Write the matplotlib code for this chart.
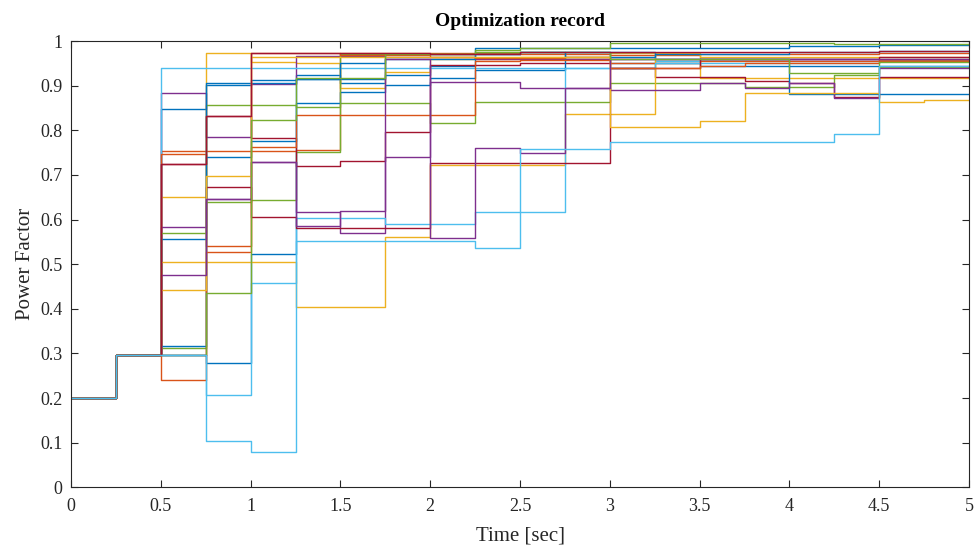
import numpy as np
import matplotlib
matplotlib.use("Agg")
import matplotlib.pyplot as plt

plt.rcParams['font.family'] = ['Liberation Serif', 'DejaVu Serif']

# step start times (0.25 s grid)
t_steps = [0, 0.25, 0.5, 0.75, 1.0, 1.25, 1.5, 1.75, 2.0, 2.25, 2.5, 2.75,
           3.0, 3.25, 3.5, 3.75, 4.0, 4.25, 4.5, 4.75]
t_end = 5.0

blue = '#0072BD'; orange = '#D95319'; yellow = '#EDB120'; purple = '#7E2F8E'
green = '#77AC30'; cyan = '#4DBEEE'; red = '#A2142F'

B1 = [.2, .297, .848, .901, .913, .924, .906, .924, .945, .985, .985, .985, .985, .985, .985, .985, .988, .988, .990, .990]
B2 = [.2, .297, .557, .741, .775, .860, .886, .902, .918, .935, .935, .975, .975, .960, .960, .960, .881, .881, .881, .881]
B3 = [.2, .297, .317, .905, .905, .914, .950, .960, .960, .970, .975, .975, .965, .970, .970, .970, .975, .975, .978, .978]
B4 = [.2, .297, .297, .279, .523, .914, .914, .970, .970, .970, .975, .965, .950, .950, .945, .945, .945, .945, .945, .945]
O1 = [.2, .297, .754, .754, .754, .755, .972, .972, .972, .972, .970, .970, .968, .968, .970, .970, .970, .970, .972, .972]
O2 = [.2, .297, .747, .541, .762, .835, .835, .835, .835, .955, .958, .958, .950, .950, .955, .955, .955, .955, .958, .958]
O3 = [.2, .297, .240, .528, .972, .972, .968, .968, .965, .962, .962, .965, .940, .940, .945, .950, .950, .950, .955, .955]
Y1 = [.2, .297, .650, .972, .952, .950, .894, .930, .960, .960, .965, .965, .972, .972, .918, .918, .918, .918, .918, .918]
Y2 = [.2, .297, .505, .505, .505, .405, .405, .561, .722, .722, .722, .836, .836, .970, .965, .965, .965, .965, .965, .965]
Y3 = [.2, .297, .441, .698, .965, .965, .965, .965, .965, .965, .965, .965, .808, .808, .821, .883, .883, .883, .864, .868]
P1 = [.2, .297, .883, .785, .903, .967, .967, .965, .965, .960, .960, .960, .960, .960, .960, .960, .960, .960, .955, .955]
P2 = [.2, .297, .583, .645, .729, .617, .569, .741, .909, .909, .894, .894, .890, .890, .905, .895, .905, .872, .940, .940]
P3 = [.2, .297, .475, .645, .729, .585, .620, .960, .558, .761, .750, .894, .960, .960, .960, .960, .960, .960, .960, .960]
G1 = [.2, .297, .313, .639, .644, .751, .860, .860, .816, .864, .864, .864, .905, .905, .905, .898, .898, .924, .941, .941]
G2 = [.2, .297, .570, .857, .857, .853, .970, .970, .970, .980, .985, .985, .995, .995, .995, .995, .995, .993, .993, .993]
G3 = [.2, .297, .297, .436, .823, .916, .916, .970, .970, .975, .975, .975, .960, .960, .960, .960, .928, .928, .952, .952]
C1 = [.2, .297, .297, .104, .078, .552, .552, .552, .552, .536, .758, .758, .773, .773, .773, .773, .773, .791, .945, .945]
C2 = [.2, .297, .297, .207, .457, .603, .603, .590, .590, .617, .617, .940, .940, .950, .950, .950, .950, .950, .955, .955]
C3 = [.2, .297, .940, .940, .940, .940, .940, .940, .940, .940, .940, .940, .940, .955, .960, .960, .960, .960, .960, .960]
R1 = [.2, .297, .725, .832, .782, .720, .731, .797, .946, .946, .950, .950, .940, .920, .920, .910, .905, .875, .920, .920]
R2 = [.2, .297, .297, .672, .605, .580, .580, .580, .727, .727, .727, .727, .940, .940, .960, .960, .960, .960, .965, .965]
R3 = [.2, .297, .725, .832, .972, .972, .972, .972, .970, .970, .975, .975, .975, .975, .975, .975, .975, .975, .978, .978]

series = [
    (B4, blue),
    (B1, blue), (O1, orange), (Y1, yellow), (P1, purple), (G1, green), (C3, cyan), (R1, red),
    (B2, blue), (O2, orange), (Y2, yellow), (P2, purple), (G2, green), (C2, cyan), (R2, red),
    (B3, blue), (O3, orange), (Y3, yellow), (P3, purple), (G3, green), (R3, red), (C1, cyan),
]

x_ticks = [0, 0.5, 1, 1.5, 2, 2.5, 3, 3.5, 4, 4.5, 5]
x_labels = ['0', '0.5', '1', '1.5', '2', '2.5', '3', '3.5', '4', '4.5', '5']
y_ticks = [0, 0.1, 0.2, 0.3, 0.4, 0.5, 0.6, 0.7, 0.8, 0.9, 1]
y_labels = ['0', '0.1', '0.2', '0.3', '0.4', '0.5', '0.6', '0.7', '0.8', '0.9', '1']

fig = plt.figure(figsize=(9.78, 5.5), dpi=100)
ax = fig.add_axes([71/978, 62.7/550, 898/978, 446.3/550])

tt = np.array(t_steps + [t_end])
for vals, col in series:
    vv = np.array(vals + [vals[-1]])
    ax.plot(tt, vv, drawstyle='steps-post', color=col, lw=1.0)

ax.set_xlim(0, 5)
ax.set_ylim(0, 1)
ax.set_xticks(x_ticks)
ax.set_xticklabels(x_labels)
ax.set_yticks(y_ticks)
ax.set_yticklabels(y_labels)
ax.tick_params(direction='in', top=True, right=True, length=5, width=0.8,
               labelsize=13, colors='#262626')
ax.tick_params(axis='x', pad=8)
ax.tick_params(axis='y', pad=6)
for s in ax.spines.values():
    s.set_color('#262626')
    s.set_linewidth(0.8)
ax.set_xlabel('Time [sec]', fontsize=15, color='#262626', labelpad=8)
ax.set_ylabel('Power Factor', fontsize=15, color='#262626', labelpad=4)
ax.set_title('Optimization record', fontsize=14, fontweight='bold', pad=11)

fig.savefig('out.png', dpi=100)
